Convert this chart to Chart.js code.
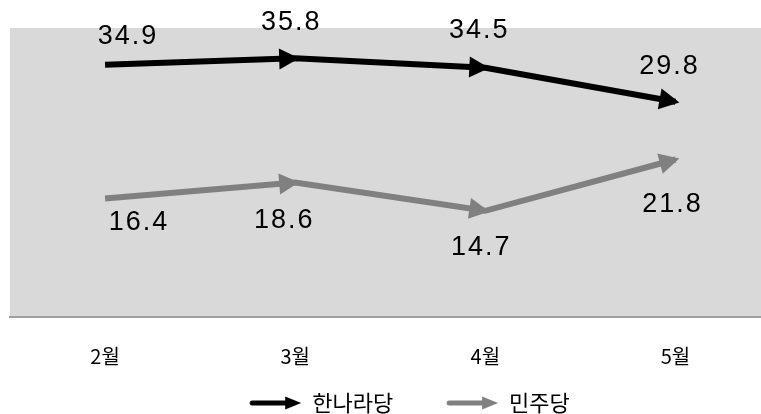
<!DOCTYPE html>
<html>
<head>
<meta charset="utf-8">
<script src="https://cdn.jsdelivr.net/npm/chart.js@4"></script>
<style>
  html, body { margin: 0; padding: 0; background: #fff; }
  #wrap { width: 761px; height: 414px; }
</style>
</head>
<body>
<div id="wrap"><canvas id="pollChart"></canvas></div>
<script>
// 정당 지지율 (%)
const months = ["2월", "3월", "4월", "5월"];
const hannara = [34.9, 35.8, 34.5, 29.8];
const minju = [16.4, 18.6, 14.7, 21.8];
const seriesNames = ["한나라당", "민주당"];
const seriesColors = ["#000000", "#808080"];

// 값 라벨 위치 (점 기준 이동)
const labelShift = [
  [[22, -28], [-5, -36], [-7, -37], [-7, -35]],
  [[33, 24], [-12, 38], [-5, 37], [-4, 45]],
];

// 범례용 화살표 아이콘 (왼쪽은 여백)
function arrowIcon(color) {
  const c = document.createElement("canvas");
  c.width = 100;
  c.height = 14;
  const g = c.getContext("2d");
  const x0 = 48;
  g.fillStyle = color;
  g.strokeStyle = color;
  g.lineWidth = 5;
  g.lineCap = "round";
  g.beginPath();
  g.moveTo(x0 + 3, 7);
  g.lineTo(x0 + 38, 7);
  g.stroke();
  g.beginPath();
  g.moveTo(x0 + 36, 0.5);
  g.lineTo(x0 + 52, 7);
  g.lineTo(x0 + 36, 13.5);
  g.closePath();
  g.fill();
  return c;
}
const icons = seriesColors.map(arrowIcon);

const plotBg = {
  id: "plotBg",
  beforeDraw(chart) {
    const { ctx, chartArea: a } = chart;
    ctx.save();
    ctx.fillStyle = "#d9d9d9";
    ctx.fillRect(a.left, a.top, a.right - a.left, a.bottom - a.top);
    ctx.restore();
  },
};

// 각 점에 화살촉 + 값 표시
const arrowsAndLabels = {
  id: "arrowsAndLabels",
  afterDatasetsDraw(chart) {
    const ctx = chart.ctx;
    chart.data.datasets.forEach((ds, di) => {
      const pts = chart.getDatasetMeta(di).data;
      ctx.save();
      ctx.fillStyle = ds.borderColor;
      for (let i = 1; i < pts.length; i++) {
        const p = pts[i], q = pts[i - 1];
        const ang = Math.atan2(p.y - q.y, p.x - q.x);
        ctx.save();
        ctx.translate(p.x, p.y);
        ctx.rotate(ang);
        ctx.beginPath();
        ctx.moveTo(4, 0);
        ctx.lineTo(-16, -10.5);
        ctx.lineTo(-16, 10.5);
        ctx.closePath();
        ctx.fill();
        ctx.restore();
      }
      ctx.restore();

      ctx.save();
      ctx.fillStyle = "#000";
      ctx.font = "27px 'Liberation Sans', Arial, sans-serif";
      ctx.letterSpacing = "2px";
      ctx.textAlign = "center";
      ctx.textBaseline = "middle";
      pts.forEach((p, i) => {
        const [dx, dy] = labelShift[di][i];
        ctx.fillText(ds.data[i].y.toFixed(1), p.x + dx + 1, p.y + dy);
      });
      ctx.restore();
    });
  },
};

const toPoints = (vals) => vals.map((v, i) => ({ x: i, y: v }));

new Chart(document.getElementById("pollChart"), {
  type: "line",
  data: {
    datasets: [
      {
        label: seriesNames[0],
        data: toPoints(hannara),
        borderColor: seriesColors[0],
        backgroundColor: seriesColors[0],
        borderWidth: 6,
        borderCapStyle: "butt",
        pointRadius: 0,
        tension: 0,
      },
      {
        label: seriesNames[1],
        data: toPoints(minju),
        borderColor: seriesColors[1],
        backgroundColor: seriesColors[1],
        borderWidth: 6,
        borderCapStyle: "butt",
        pointRadius: 0,
        tension: 0,
      },
    ],
  },
  options: {
    responsive: true,
    maintainAspectRatio: false,
    animation: false,
    layout: {
      padding: { top: 28, left: 10, right: 0, bottom: -10 },
    },
    scales: {
      x: {
        type: "linear",
        min: -0.5,
        max: 3.45,
        grid: { display: false },
        border: { display: true, color: "#a0a0a0", width: 2 },
        afterBuildTicks(axis) {
          axis.ticks = months.map((m, i) => ({ value: i }));
        },
        ticks: {
          color: "#000",
          padding: 19,
          font: { family: "'Noto Sans CJK KR', sans-serif", size: 20 },
          callback: (v) => months[v],
        },
      },
      y: {
        display: false,
        min: 0,
        max: 40,
      },
    },
    plugins: {
      legend: {
        position: "bottom",
        labels: {
          usePointStyle: true,
          pointStyleWidth: 100,
          padding: 5,
          color: "#000",
          font: { family: "'Noto Sans CJK KR', sans-serif", size: 22 },
          generateLabels(chart) {
            const items = Chart.defaults.plugins.legend.labels.generateLabels(chart);
            items.forEach((it, i) => { it.pointStyle = icons[i]; });
            return items;
          },
        },
      },
      tooltip: { enabled: false },
    },
  },
  plugins: [plotBg, arrowsAndLabels],
});
</script>
</body>
</html>
